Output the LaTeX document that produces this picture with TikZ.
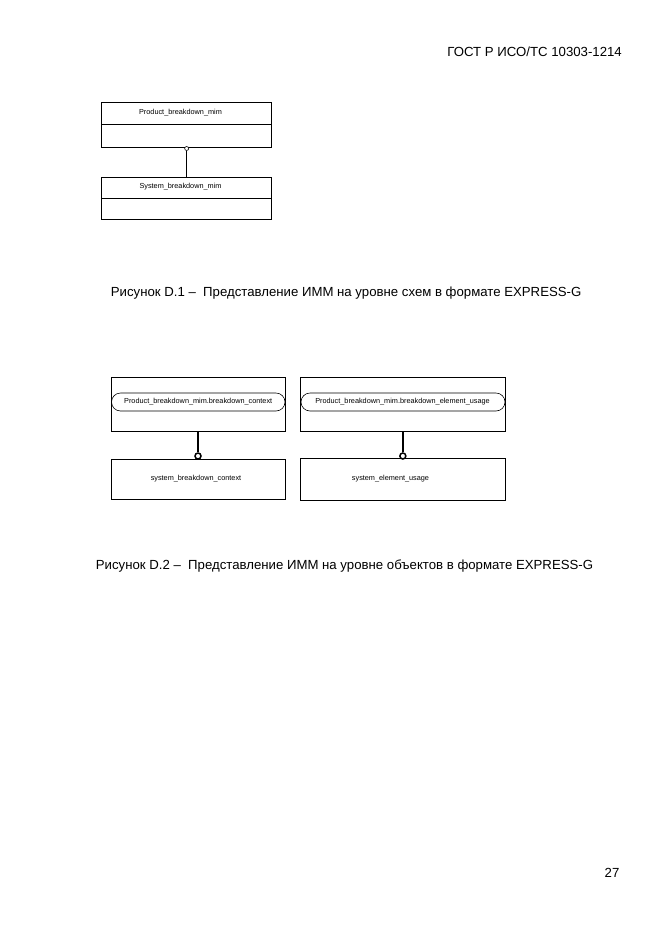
\documentclass[tikz,border=0pt]{standalone}
\usepackage{fontspec}
\setmainfont{Liberation Sans}
\usetikzlibrary{calc}
\begin{document}
\begin{tikzpicture}[x=1pt,y=-1pt,
  box/.style={draw,line width=0.6pt,inner sep=0pt,rectangle},
  oval/.style={draw,line width=0.6pt,inner sep=0pt,rounded corners=9pt},
  small/.style={font=\fontsize{7.3}{8}\selectfont,inner sep=0pt},
  big/.style={font=\fontsize{13.2}{15}\selectfont,inner sep=0pt},
  divider/.style={line width=0.6pt},
  thinlink/.style={line width=0.6pt},
  thicklink/.style={line width=1.8pt},
  smallring/.style={draw,circle,line width=0.6pt,minimum size=4pt,inner sep=0pt,fill=white},
  bigring/.style={draw,circle,line width=1.5pt,minimum size=6pt,inner sep=0pt,fill=white}
]
\useasboundingbox (0,0) rectangle (661,935);
% header
\node[big,anchor=base east] (hdr) at (622,56) {ГОСТ Р ИСО/ТС 10303-1214};
% Figure D.1
\node[box,minimum width=170pt,minimum height=44.2pt,anchor=north] (pb) at (186.7,102.3) {};
\draw[divider] ($(pb.north west)+(0,21.7)$) -- ($(pb.north east)+(0,21.7)$);
\node[small] (pbt) at (180.5,112.7) {Product\_breakdown\_mim};
\node[box,minimum width=170pt,minimum height=41.7pt,anchor=north] (sb) at (186.7,177.3) {};
\draw[divider] ($(sb.north west)+(0,21)$) -- ($(sb.north east)+(0,21)$);
\node[small] (sbt) at (180.5,187) {System\_breakdown\_mim};
\node[smallring] (r1) at (186.7,148.5) {};
\draw[thinlink] (r1.south) -- (sb.north);
\node[big,anchor=base west] (cap1) at (110.7,296) {Рисунок D.1 –\ \ Представление ИММ на уровне схем в формате EXPRESS-G};
% Figure D.2 left
\node[box,minimum width=174pt,minimum height=53.7pt] (lb) at (198,404.15) {};
\node[oval,minimum width=173.5pt,minimum height=18pt] (lo) at (198.25,402) {};
\node[small] (lot) at (198.2,402) {Product\_breakdown\_mim.breakdown\_context};
\node[box,minimum width=174pt,minimum height=40pt] (lc) at (198,479) {};
\node[small] (lct) at (196,479) {system\_breakdown\_context};
\node[bigring] (r2) at (198,456) {};
\draw[thicklink] (lb.south) -- (r2.north);
% Figure D.2 right
\node[box,minimum width=204.3pt,minimum height=53.7pt] (rb) at (402.85,404.15) {};
\node[oval,minimum width=204pt,minimum height=18pt] (ro) at (403,402) {};
\node[small] (rot) at (402.5,402) {Product\_breakdown\_mim.breakdown\_element\_usage};
\node[box,minimum width=204.3pt,minimum height=41.5pt] (rc) at (402.85,479.25) {};
\node[small] (rct) at (390.5,479) {system\_element\_usage};
\node[bigring] (r3) at (402.85,456) {};
\draw[thicklink] (rb.south) -- (r3.north);
\node[big,anchor=base west] (cap2) at (95.7,569) {Рисунок D.2 –\ \ Представление ИММ на уровне объектов в формате EXPRESS-G};
% page number
\node[big] (pg) at (612,873) {27};
\end{tikzpicture}
\end{document}
